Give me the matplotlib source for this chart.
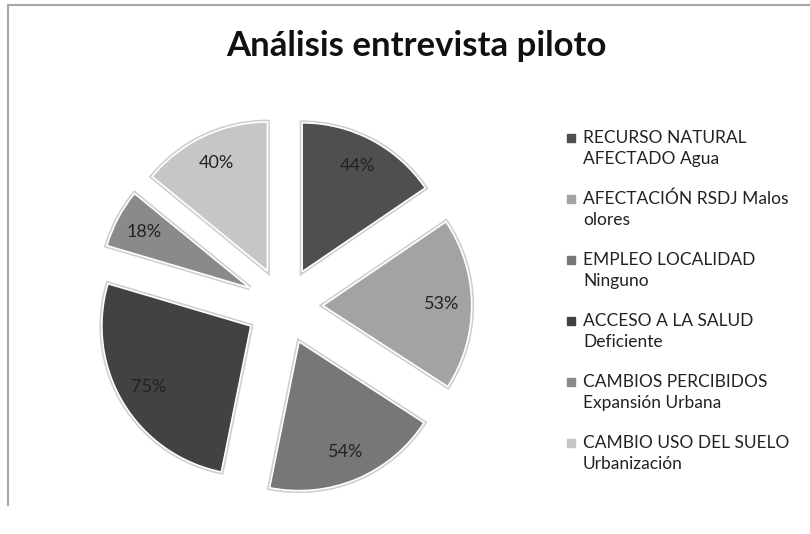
import matplotlib.pyplot as plt
from matplotlib.lines import Line2D
from matplotlib.patches import Rectangle

# datos de la entrevista piloto
categorias = ['RECURSO NATURAL\nAFECTADO Agua',
              'AFECTACIÓN RSDJ Malos\nolores',
              'EMPLEO LOCALIDAD\nNinguno',
              'ACCESO A LA SALUD\nDeficiente',
              'CAMBIOS PERCIBIDOS\nExpansión Urbana',
              'CAMBIO USO DEL SUELO\nUrbanización']
valores = [44, 53, 54, 75, 18, 40]
etiquetas = ['44%', '53%', '54%', '75%', '18%', '40%']
colores = ['#4f4f4f', '#a3a3a3', '#777777', '#424242', '#8a8a8a', '#c6c6c6']

plt.rcParams['font.family'] = ['Lato', 'DejaVu Sans']

fig = plt.figure(figsize=(8.1, 5.34), dpi=100)

# marco del grafico
fig.add_artist(Line2D([8/810, 1], [1 - 5/534, 1 - 5/534], color='#a8a8a8', lw=1.5))
fig.add_artist(Line2D([8/810, 8/810], [1 - 5/534, 1 - 505/534], color='#a8a8a8', lw=1.5))

fig.text(416/810, 1 - 46/534, 'Análisis entrevista piloto', ha='center', va='center',
         fontsize=25, fontweight='bold', color='#111111')

ax = fig.add_axes([68/810, 12/534, 432/810, 432/534])
explode = [0.26] * len(valores)

# sombra clara bajo los sectores
ax.pie(valores, explode=explode, colors=colores, startangle=90, counterclock=False,
       wedgeprops=dict(edgecolor='#cfcfcf', linewidth=3.5))
ax.pie(valores, explode=explode, colors=colores, startangle=90, counterclock=False,
       labels=etiquetas, labeldistance=0.8,
       wedgeprops=dict(edgecolor='white', linewidth=1.2),
       textprops=dict(fontsize=13, color='#222222', ha='center', va='center'))
ax.set_xlim(-1.45, 1.45)
ax.set_ylim(-1.45, 1.45)
ax.set_aspect('equal')
ax.axis('off')

# leyenda
for i, (cat, col) in enumerate(zip(categorias, colores)):
    y = 138 + i * 61
    fig.add_artist(Rectangle((567/810, 1 - (y + 4)/534), 8/810, 8/534,
                             transform=fig.transFigure, color=col))
    fig.text(583/810, 1 - (y - 8)/534, cat, ha='left', va='top', fontsize=12.5,
             color='#222222', linespacing=1.38)

plt.savefig('out.png', dpi=100)
